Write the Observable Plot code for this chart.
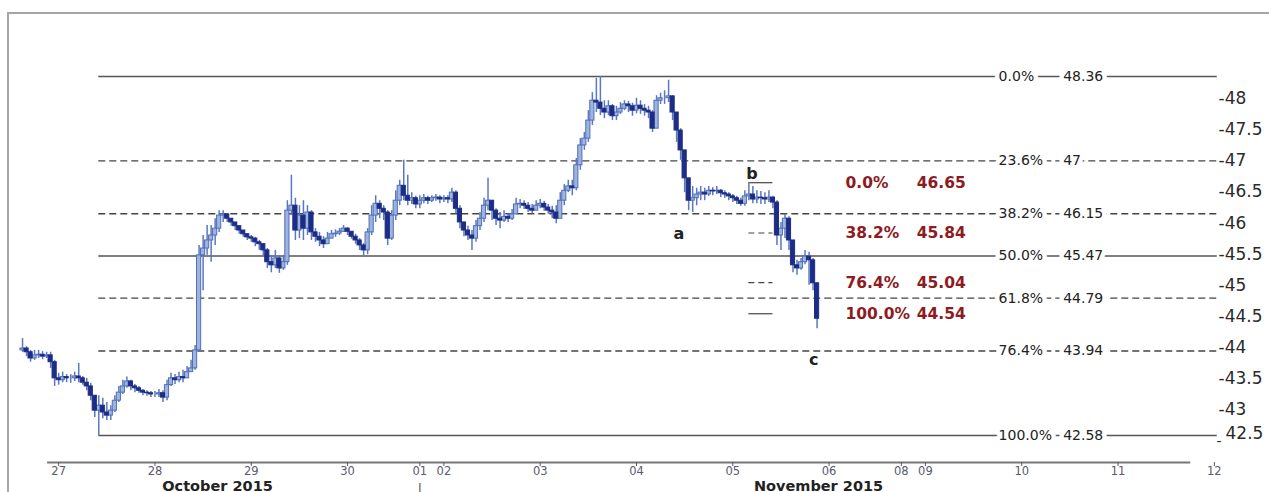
<!DOCTYPE html>
<html><head><meta charset="utf-8">
<script src="https://cdn.jsdelivr.net/npm/d3@7"></script>
<script src="https://cdn.jsdelivr.net/npm/@observablehq/plot@0.6"></script>
<style>
html,body{margin:0;padding:0;background:#fff;overflow:hidden;}
#wrap{position:relative;width:1269px;height:492px;}
#chart{position:absolute;left:0;top:0;}
#border{position:absolute;left:7px;top:12px;width:1270px;height:490px;border-left:2px solid #a6a6a6;border-top:2px solid #a6a6a6;pointer-events:none;z-index:2;}
</style></head><body>
<div id="wrap"><div id="chart"></div><div id="border"></div></div>
<script>
// hourly candles, trading-time index (hours since 27 Oct 00:00, weekend removed)
const startHour = -9;
const firstOpen = 43.95;
const closes = [
43.98,43.92,43.82,43.87,43.88,43.85,43.87,43.76,43.50,43.47,
43.52,43.50,43.50,43.53,43.50,43.43,43.37,43.22,42.98,43.06,
42.95,42.90,42.98,43.14,43.27,43.37,43.45,43.37,43.34,43.30,
43.27,43.26,43.24,43.24,43.26,43.19,43.39,43.50,43.47,43.52,
43.50,43.60,43.66,43.95,45.48,45.59,45.72,45.80,45.91,46.12,
46.14,46.07,46.01,45.95,45.88,45.82,45.77,45.75,45.69,45.66,
45.56,45.37,45.32,45.43,45.27,45.37,46.20,46.28,45.88,46.12,
45.91,46.17,45.85,45.78,45.72,45.66,45.75,45.82,45.83,45.86,
45.91,45.86,45.78,45.72,45.64,45.56,45.85,46.12,46.31,46.23,
46.17,45.75,46.12,46.36,46.60,46.44,46.36,46.40,46.30,46.36,
46.40,46.36,46.40,46.41,46.38,46.40,46.38,46.49,46.23,46.01,
45.88,45.80,45.75,45.95,46.07,46.28,46.36,46.20,46.07,46.04,
46.10,46.07,46.14,46.30,46.31,46.28,46.23,46.20,46.28,46.31,
46.25,46.20,46.17,46.07,46.36,46.52,46.59,46.56,46.93,47.25,
47.36,47.65,47.97,47.94,47.84,47.78,47.88,47.72,47.78,47.84,
47.91,47.88,47.81,47.89,47.84,47.81,47.78,47.52,47.97,48.01,
48.01,48.04,47.78,47.49,47.17,46.72,46.36,46.40,46.46,46.49,
46.46,46.52,46.51,46.52,46.48,46.46,46.43,46.40,46.36,46.31,
46.43,46.46,46.38,46.41,46.40,46.38,46.41,46.33,45.80,45.91,
46.07,45.72,45.32,45.27,45.37,45.46,45.40,45.03,44.46];
const highs = [
44.14,44.01,43.95,43.95,43.95,43.93,43.92,43.92,43.79,43.58,
43.60,43.56,43.56,43.60,43.74,43.53,43.50,43.42,43.18,43.22,
43.18,43.11,43.06,43.22,43.37,43.47,43.52,43.47,43.40,43.37,
43.32,43.30,43.29,43.29,43.32,43.30,43.47,43.58,43.56,43.60,
43.63,43.69,43.79,44.03,45.64,45.80,45.96,45.96,46.07,46.20,
46.20,46.15,46.07,46.01,45.95,45.88,45.83,45.80,45.77,45.72,
45.67,45.59,45.48,45.56,45.46,45.48,46.36,46.77,46.40,46.28,
46.36,46.28,46.20,45.91,45.85,45.78,45.85,45.88,45.89,45.91,
45.96,45.93,45.86,45.82,45.75,45.67,45.91,46.28,46.44,46.36,
46.28,46.20,46.20,46.52,46.69,47.01,46.77,46.49,46.43,46.44,
46.46,46.43,46.44,46.46,46.44,46.44,46.44,46.56,46.52,46.28,
46.01,45.95,45.88,46.04,46.17,46.40,46.72,46.36,46.23,46.17,
46.20,46.15,46.22,46.40,46.38,46.36,46.33,46.30,46.36,46.38,
46.35,46.30,46.27,46.28,46.49,46.62,46.69,46.69,47.04,47.36,
47.46,47.81,48.10,48.33,48.36,47.97,47.97,47.91,47.88,47.94,
47.97,47.96,47.93,48.01,47.97,47.91,47.88,47.81,48.05,48.09,
48.13,48.30,48.05,47.78,47.52,47.09,46.69,46.59,46.56,46.59,
46.56,46.59,46.57,46.59,46.54,46.52,46.49,46.46,46.43,46.40,
46.52,46.65,46.59,46.52,46.51,46.49,46.52,46.43,46.36,46.01,
46.14,46.10,45.72,45.40,45.43,45.56,45.53,45.43,45.04];
const lows = [
43.92,43.85,43.76,43.79,43.82,43.80,43.82,43.66,43.37,43.39,
43.43,43.43,43.42,43.45,43.43,43.39,43.30,43.14,42.87,42.58,
42.85,42.82,42.82,42.95,43.11,43.24,43.34,43.30,43.27,43.26,
43.22,43.21,43.19,43.19,43.19,43.11,43.14,43.37,43.40,43.43,
43.43,43.50,43.60,43.63,43.92,44.91,45.48,45.37,45.64,45.85,
46.01,46.01,45.95,45.88,45.82,45.77,45.72,45.69,45.62,45.56,
45.46,45.27,45.20,45.27,45.19,45.24,45.32,46.12,45.72,45.75,
45.72,45.80,45.72,45.69,45.62,45.59,45.66,45.75,45.77,45.80,
45.85,45.80,45.74,45.66,45.56,45.45,45.49,45.80,46.01,46.07,
46.04,45.64,45.72,46.04,46.28,46.36,46.28,46.30,46.23,46.23,
46.31,46.30,46.33,46.35,46.31,46.33,46.31,46.33,46.15,45.91,
45.78,45.72,45.56,45.69,45.88,46.01,46.20,46.04,45.96,45.91,
46.01,46.01,46.04,46.17,46.23,46.22,46.17,46.14,46.20,46.23,
46.19,46.14,46.07,45.99,46.12,46.28,46.49,46.44,46.52,46.85,
47.17,47.30,47.57,47.78,47.73,47.68,47.73,47.65,47.65,47.75,
47.81,47.78,47.72,47.76,47.75,47.72,47.68,47.46,47.52,47.91,
47.91,47.94,47.65,47.30,47.01,46.49,46.20,46.17,46.28,46.36,
46.36,46.43,46.44,46.46,46.41,46.40,46.36,46.33,46.30,46.27,
46.27,46.36,46.31,46.31,46.30,46.30,46.33,46.23,45.64,45.56,
45.75,45.56,45.20,45.16,45.24,45.33,45.00,44.91,44.30];

// x axis: trading-day positions and labels
const dayTicks  = [0, 1, 2, 3, 3.75, 4, 5, 6, 7, 8, 8.75, 9, 10, 11, 12];
const dayLabels = ["27","28","29","30","01","02","03","04","05","06","08","09","10","11","12"];
const monthLabels  = ["October 2015", "November 2015"];
const monthCenters = [1.65, 7.89];
const monthBreak = 3.75;
// y axis ticks
const yTicks = [42.5, 43, 43.5, 44, 44.5, 45, 45.5, 46, 46.5, 47, 47.5, 48];

// main Fibonacci retracement
const fibPct = ["0.0%","23.6%","38.2%","50.0%","61.8%","76.4%","100.0%"];
const fibVal = [48.36, 47.00, 46.15, 45.47, 44.79, 43.94, 42.58];
const fibTxt = ["48.36","47","46.15","45.47","44.79","43.94","42.58"];
const fibDashed = [false, true, true, false, true, true, false];
// inner retracement (b -> c)
const innerPct = ["0.0%","38.2%","76.4%","100.0%"];
const innerVal = [46.65, 45.84, 45.04, 44.54];
const innerTxt = ["46.65","45.84","45.04","44.54"];
const innerDashed = [false, true, true, false];
// wave labels
const waveLabels = ["a","b","c"];
const waveT = [6.44, 7.20, 7.84];
const waveP = [45.83, 46.80, 43.79];

// layout constants
const xDomain = [-0.5, 12.5];
const yDomain = [42.145, 49.4];
const fibEnd = 12.03, fibPctT = 9.76, fibValT = 10.43;
const innerPctT = 8.17, innerValT = 8.91, innerLen = 0.25;
const axisExtent = [-0.115, 11.755];
const bodyHalf = 0.52 / 24;

const candles = closes.map((c, i) => {
  const o = i === 0 ? firstOpen : closes[i - 1];
  return {t: (startHour + i) / 24, open: o, close: c,
    high: Math.max(highs[i], o, c), low: Math.min(lows[i], o, c), up: c >= o};
});
const lowC = candles.reduce((a, b) => b.low < a.low ? b : a);
const fibStart = lowC.t;
const tail = candles.slice(-30);
const bC = tail.reduce((a, b) => b.high > a.high ? b : a);
const innerStart = bC.t;

const fibs = fibVal.map((v, i) => ({v, pct: fibPct[i], txt: fibTxt[i], dashed: fibDashed[i]}));
const inner = innerVal.map((v, i) => ({v, pct: innerPct[i], txt: innerTxt[i], dashed: innerDashed[i]}));
const waves = waveLabels.map((l, i) => ({l, t: waveT[i], p: waveP[i]}));
const labelMap = new Map(dayTicks.map((d, i) => [d, dayLabels[i]]));
const months = monthLabels.map((l, i) => ({l, t: monthCenters[i]}));

const F = "DejaVu Sans, Verdana, sans-serif";
const halo = {stroke: "white", strokeWidth: 9, strokeLinejoin: "round", paintOrder: "stroke"};
const plot = Plot.plot({
  width: 1269, height: 492,
  marginLeft: 10, marginRight: 7, marginTop: 11.4, marginBottom: 30,
  style: {background: "transparent", fontFamily: F},
  x: {domain: xDomain, axis: null},
  y: {domain: yDomain, axis: null},
  marks: [
    Plot.ruleY(fibs.filter(d => !d.dashed), {y: "v", x1: fibStart, x2: fibEnd, stroke: "#555", strokeWidth: 1.6}),
    Plot.ruleY(fibs.filter(d => d.dashed), {y: "v", x1: fibStart, x2: fibEnd, stroke: "#444", strokeWidth: 1.3, strokeDasharray: "7,4"}),
    Plot.ruleY(inner.filter(d => !d.dashed), {y: "v", x1: innerStart, x2: innerStart + innerLen, stroke: "#444", strokeWidth: 1.2}),
    Plot.ruleY(inner.filter(d => d.dashed), {y: "v", x1: innerStart, x2: innerStart + innerLen, stroke: "#444", strokeWidth: 1.2, strokeDasharray: "6,4"}),
    Plot.ruleX(candles, {x: "t", y1: "low", y2: "high", stroke: "#5a78c0", strokeWidth: 1.5}),
    Plot.rect(candles.filter(d => d.up), {x1: d => d.t - bodyHalf, x2: d => d.t + bodyHalf, y1: "open", y2: "close", fill: "#9fb3df", stroke: "#4f6fb8", strokeWidth: 1}),
    Plot.rect(candles.filter(d => !d.up), {x1: d => d.t - bodyHalf, x2: d => d.t + bodyHalf, y1: "open", y2: "close", fill: "#1d2d86", stroke: "#1d2d86", strokeWidth: 1}),
    Plot.text(fibs, {x: fibPctT, y: "v", text: "pct", textAnchor: "start", fontSize: 14, fill: "#222", ...halo}),
    Plot.text(fibs, {x: fibValT, y: "v", text: "txt", textAnchor: "start", fontSize: 14, fill: "#222", ...halo}),
    Plot.text(inner, {x: innerPctT, y: "v", text: "pct", textAnchor: "start", fontSize: 15.5, fontWeight: "bold", fill: "#8e1b22"}),
    Plot.text(inner, {x: innerValT, y: "v", text: "txt", textAnchor: "start", fontSize: 15.5, fontWeight: "bold", fill: "#8e1b22"}),
    Plot.text(waves, {x: "t", y: "p", text: "l", fontSize: 16, fontWeight: "bold", fill: "#222"}),
    Plot.text(yTicks.filter(d => d !== yTicks[0]), {y: d => d, text: d => "-" + d, frameAnchor: "right", dx: -44, textAnchor: "start", fontSize: 17, fill: "#2a2a2a"}),
    Plot.text([yTicks[0]], {y: d => d, text: d => "" + d, frameAnchor: "right", dx: -37, dy: -7, textAnchor: "start", fontSize: 17, fill: "#2a2a2a"}),
    Plot.text([yTicks[0]], {y: d => d, text: d => "-", frameAnchor: "right", dx: -46, dy: 1, textAnchor: "start", fontSize: 14, fill: "#2a2a2a"}),
    Plot.ruleY([yDomain[0]], {x1: axisExtent[0], x2: axisExtent[1], stroke: "#777", strokeWidth: 2}),
    Plot.axisX({ticks: dayTicks, tickFormat: d => labelMap.get(d), tickSize: 4, tickPadding: 0, fontSize: 11.5, color: "#5c5870", anchor: "bottom", label: null}),
    Plot.text(months, {x: "t", text: "l", frameAnchor: "bottom", dy: 28, fontSize: 14.5, fontWeight: "bold", fill: "#222"}),
    Plot.text([monthBreak], {x: d => d, text: d => "|", frameAnchor: "bottom", dy: 28, fontSize: 11, fill: "#333"})
  ]
});
document.getElementById("chart").appendChild(plot);
</script>
</body></html>
